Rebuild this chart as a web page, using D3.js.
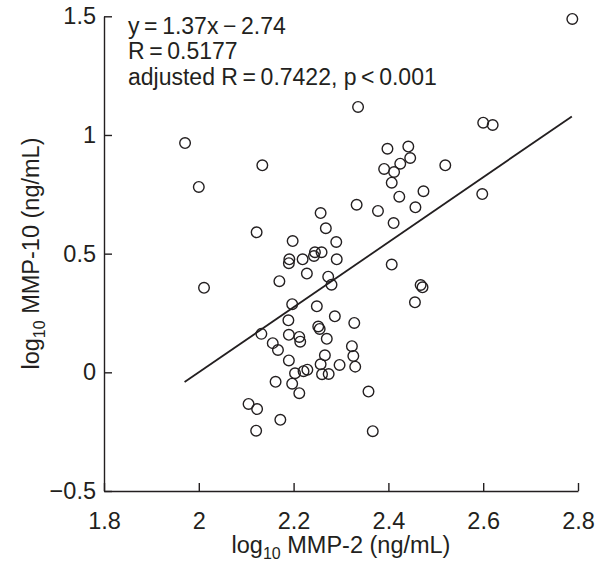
<!DOCTYPE html>
<html><head><meta charset="utf-8">
<script src="https://cdn.jsdelivr.net/npm/d3@7/dist/d3.min.js"></script>
<style>
body{margin:0;background:#fff}
text{font-family:"Liberation Sans",Arial,Helvetica,sans-serif;fill:#231f20}
</style>
</head><body>
<svg id="chart" width="602" height="566"></svg>
<script>
// ---- data ----
const mmp2 = [2.788,1.971,2.000,2.011,2.336,2.600,2.620,2.520,2.598,2.134,
  2.398,2.442,2.446,2.425,2.391,2.412,2.407,2.474,2.423,2.257,
  2.333,2.378,2.457,2.411,2.122,2.268,2.198,2.290,2.245,2.259,
  2.243,2.191,2.190,2.219,2.291,2.407,2.228,2.273,2.170,2.280,
  2.468,2.472,2.456,2.197,2.249,2.287,2.189,2.328,2.252,2.255,
  2.132,2.190,2.212,2.214,2.270,2.156,2.167,2.323,2.266,2.326,
  2.190,2.257,2.297,2.330,2.203,2.221,2.229,2.260,2.274,2.162,
  2.197,2.212,2.358,2.105,2.123,2.172,2.121,2.367];
const mmp10 = [1.489,0.966,0.781,0.356,1.118,1.052,1.042,0.872,0.751,0.872,
  0.942,0.951,0.903,0.879,0.857,0.844,0.799,0.763,0.740,0.671,
  0.706,0.680,0.695,0.629,0.590,0.607,0.553,0.549,0.506,0.506,
  0.490,0.476,0.460,0.476,0.476,0.454,0.416,0.403,0.384,0.369,
  0.368,0.358,0.295,0.287,0.278,0.236,0.219,0.208,0.193,0.183,
  0.162,0.158,0.149,0.129,0.141,0.123,0.094,0.110,0.072,0.069,
  0.050,0.034,0.031,0.024,-0.004,0.005,0.011,-0.008,-0.007,-0.040,
  -0.048,-0.088,-0.081,-0.133,-0.155,-0.200,-0.246,-0.248];
const xTicks = [1.8, 2, 2.2, 2.4, 2.6, 2.8];
const xTickLabels = ["1.8", "2", "2.2", "2.4", "2.6", "2.8"];
const yTicks = [-0.5, 0, 0.5, 1, 1.5];
const yTickLabels = ["\u22120.5", "0", "0.5", "1", "1.5"];
const fitSlope = 1.37, fitIntercept = -2.74;
const fitRange = [1.97, 2.787];
const annotation = ["y\u2009=\u20091.37x\u2009\u2212\u20092.74", "R\u2009=\u20090.5177", "adjusted R\u2009=\u20090.7422, p\u2009<\u20090.001"];

// ---- drawing ----
const svg = d3.select("#chart");
const x = d3.scaleLinear().domain([1.8, 2.8]).range([104, 578]);
const y = d3.scaleLinear().domain([-0.5, 1.5]).range([491, 16.3]);
const ink = "#231f20";
const fs = 23.5;

const xAxis = d3.axisBottom(x).tickValues(xTicks)
  .tickFormat((d, i) => xTickLabels[i]).tickSizeInner(-8).tickSizeOuter(0).tickPadding(21);
const yAxis = d3.axisLeft(y).tickValues(yTicks)
  .tickFormat((d, i) => yTickLabels[i]).tickSizeInner(-8).tickSizeOuter(0).tickPadding(8);

const gx = svg.append("g").attr("transform", "translate(0,491)").call(xAxis);
const gy = svg.append("g").attr("transform", "translate(104,0)").call(yAxis);
[gx, gy].forEach(g => {
  g.selectAll("path,line").attr("stroke", ink).attr("stroke-width", 1.4);
  g.selectAll("text").attr("font-size", fs).attr("fill", ink)
   .attr("font-family", "'Liberation Sans',Arial,sans-serif");
});

// fit line
svg.append("line")
  .attr("x1", x(fitRange[0])).attr("y1", y(fitSlope * fitRange[0] + fitIntercept))
  .attr("x2", x(fitRange[1])).attr("y2", y(fitSlope * fitRange[1] + fitIntercept))
  .attr("stroke", ink).attr("stroke-width", 1.8);

// points
svg.append("g").selectAll("circle").data(mmp2.map((v, i) => [v, mmp10[i]]))
  .join("circle")
  .attr("cx", d => x(d[0])).attr("cy", d => y(d[1])).attr("r", 5.3)
  .attr("fill", "none").attr("stroke", ink).attr("stroke-width", 1.4);

// annotation
svg.append("g").selectAll("text").data(annotation).join("text")
  .attr("x", 128).attr("y", (d, i) => 33.5 + i * 25.8)
  .attr("font-size", 23).text(d => d);

// x title
const xt = svg.append("text").attr("x", 341).attr("y", 553)
  .attr("text-anchor", "middle").attr("font-size", fs);
xt.append("tspan").text("log");
xt.append("tspan").attr("font-size", 16).attr("dy", 6).text("10");
xt.append("tspan").attr("dy", -6).text(" MMP-2 (ng/mL)");

// y title
const yt = svg.append("text").attr("transform", "translate(39,253.5) rotate(-90)")
  .attr("text-anchor", "middle").attr("font-size", fs);
yt.append("tspan").text("log");
yt.append("tspan").attr("font-size", 16).attr("dy", 6).text("10");
yt.append("tspan").attr("dy", -6).text(" MMP-10 (ng/mL)");
</script>
</body></html>
